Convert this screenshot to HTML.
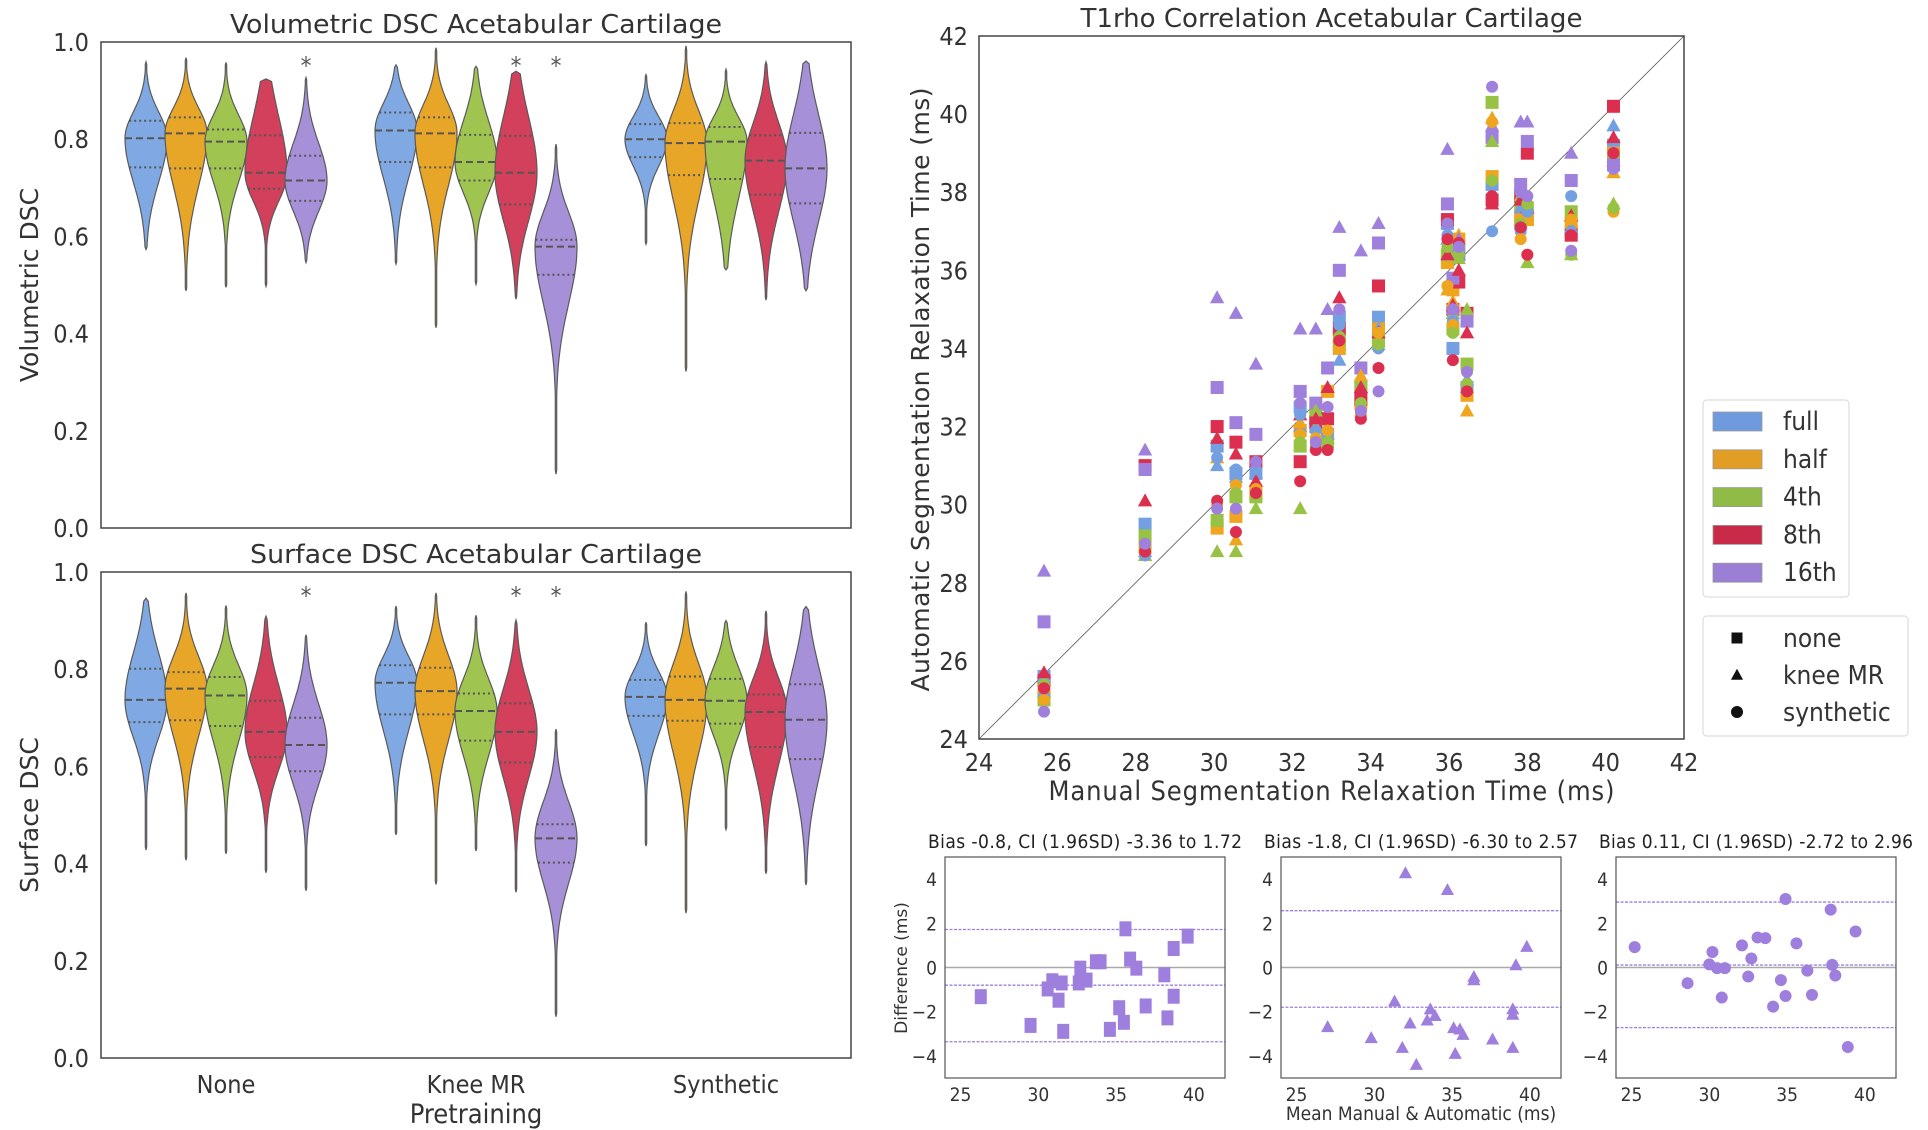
<!DOCTYPE html>
<html><head><meta charset="utf-8"><style>
html,body{margin:0;padding:0;background:#fff;}
svg{display:block;font-family:"DejaVu Sans Condensed","DejaVu Sans","Liberation Sans",sans-serif;}
</style></head><body>
<svg id="fig" width="1928" height="1130" viewBox="0 0 1928 1130"></svg>
<script>
// ---------------- data ----------------
const groups = ["None","Knee MR","Synthetic"];
const fractions = ["full","half","4th","8th","16th"];
const colors = ["#74a0e2","#f0a51e","#98c244","#dc2f4f","#9f80dc"];
const violinColors = ["#80a9e3","#e8a628","#a0c450","#d2405c","#a690d8"];
const volMin = [[0.573,0.488,0.495,0.497,0.546],[0.543,0.412,0.501,0.471,0.111],[0.584,0.322,0.531,0.469,0.488]];
const volQ1  = [[0.742,0.740,0.740,0.698,0.673],[0.753,0.742,0.715,0.666,0.521],[0.763,0.726,0.718,0.686,0.668]];
const volMed = [[0.802,0.812,0.795,0.731,0.715],[0.818,0.812,0.753,0.731,0.579],[0.800,0.792,0.795,0.756,0.740]];
const volQ3  = [[0.838,0.845,0.820,0.808,0.766],[0.855,0.845,0.809,0.807,0.593],[0.831,0.833,0.825,0.808,0.813]];
const volMax = [[0.959,0.968,0.958,0.924,0.927],[0.953,0.988,0.950,0.940,0.790],[0.933,0.992,0.944,0.959,0.961]];
const surfMin = [[0.428,0.407,0.420,0.381,0.344],[0.459,0.357,0.426,0.341,0.085],[0.436,0.298,0.470,0.379,0.356]];
const surfQ1  = [[0.691,0.695,0.683,0.619,0.590],[0.707,0.707,0.653,0.608,0.402],[0.704,0.694,0.688,0.640,0.615]];
const surfMed = [[0.737,0.760,0.746,0.671,0.644],[0.772,0.755,0.714,0.671,0.452],[0.743,0.737,0.735,0.712,0.696]];
const surfQ3  = [[0.801,0.794,0.784,0.735,0.700],[0.808,0.803,0.750,0.730,0.481],[0.778,0.785,0.780,0.748,0.769]];
const surfMax = [[0.946,0.957,0.931,0.909,0.871],[0.930,0.957,0.911,0.901,0.677],[0.897,0.960,0.900,0.920,0.929]];
const sigMarks = [[0,4],[1,3],[1,4]];
const violinTicks = [0,0.2,0.4,0.6,0.8,1.0];

const manualT = [25.66,28.24,30.08,30.56,31.07,32.2,32.6,32.9,33.2,33.75,34.2,35.96,36.1,36.25,36.46,37.1,37.83,38.0,39.12,40.2];
const pretrainNames = ["none","knee MR","synthetic"];
const autoNone = [
 [25.6,29.5,31.5,30.8,30.8,32.5,32.0,31.8,34.8,33.0,34.8,37.2,34.0,36.5,33.0,38.2,37.2,37.4,37.0,39.2],
 [25.2,28.9,29.4,29.7,30.3,31.9,32.4,32.9,34.0,32.6,34.5,36.2,35.5,36.8,32.8,38.4,37.4,37.3,37.2,39.0],
 [25.0,29.2,29.6,30.2,30.2,31.5,32.3,31.6,34.2,33.0,34.2,36.4,34.5,36.5,33.6,40.3,37.7,37.6,37.5,38.8],
 [25.5,31.0,32.0,31.6,31.1,31.1,32.1,32.2,34.5,32.7,35.6,37.3,35.0,35.7,34.9,37.8,37.9,39.0,36.9,40.2],
 [27.0,30.9,33.0,32.1,31.8,32.9,32.6,33.5,36.0,33.5,36.7,37.7,35.8,36.4,34.7,39.4,38.2,39.3,38.3,38.7]];
const autoKnee = [
 [25.6,28.8,31.0,30.7,30.8,32.0,32.2,31.8,33.7,33.0,34.5,36.8,34.9,36.4,33.2,38.0,37.6,37.6,37.1,39.7],
 [25.3,28.7,31.2,29.1,30.3,32.1,32.0,32.9,34.3,33.3,34.2,35.5,35.2,36.9,32.4,39.9,37.3,37.3,37.4,38.5],
 [25.2,28.7,28.8,28.8,29.9,29.9,32.4,31.7,34.1,33.0,34.1,36.5,34.9,36.3,35.0,39.3,37.9,36.2,36.4,37.7],
 [25.7,30.1,31.7,31.3,30.6,32.3,32.2,33.0,35.3,33.0,34.4,36.4,35.1,36.0,34.4,37.7,37.8,37.6,37.4,39.4],
 [28.3,31.4,35.3,34.9,33.6,34.5,34.5,35.0,37.1,36.5,37.2,39.1,35.0,36.8,33.0,39.7,39.8,39.8,39.0,38.8]];
const autoSyn = [
 [25.1,28.7,31.2,30.9,30.9,32.3,31.9,31.8,34.6,32.4,34.0,36.9,34.7,36.5,33.0,37.0,37.0,37.5,37.9,39.0],
 [25.0,28.8,30.0,30.5,30.4,31.8,31.7,31.9,34.0,32.3,34.4,35.6,34.6,36.6,32.8,39.8,36.8,36.4,37.3,37.5],
 [25.4,28.9,29.6,30.3,30.2,31.6,31.5,31.6,34.3,32.6,34.1,36.6,34.4,36.4,33.1,38.3,37.2,37.7,36.4,37.6],
 [25.3,28.8,30.1,29.3,30.3,30.6,31.4,31.4,34.2,32.2,33.5,36.8,33.7,36.7,32.9,37.9,37.1,36.4,36.9,39.0],
 [24.7,29.0,29.9,29.9,31.1,32.6,31.6,32.5,35.0,32.4,32.9,37.2,35.0,36.6,33.4,40.7,38.0,37.9,36.5,38.6]];
const scatterTicks = [24,26,28,30,32,34,36,38,40,42];

const baMean1 = [26.3,29.5,30.6,30.9,31.3,31.5,31.6,32.6,32.7,33.1,33.7,34.0,34.6,35.2,35.5,35.6,35.9,36.3,36.9,38.1,38.3,38.7,38.7,39.6];
const baDiff1 = [-1.32,-2.62,-0.97,-0.6,-1.48,-0.7,-2.89,-0.7,-0.03,-0.57,0.26,0.26,-2.8,-1.82,-2.48,1.75,0.38,-0.03,-1.74,-0.33,-2.28,-1.3,0.86,1.42];
const baMean2 = [27.0,29.8,31.3,31.8,32.0,32.3,32.7,33.4,33.6,33.9,34.7,35.1,35.2,35.5,35.7,36.4,36.4,37.6,38.9,38.9,38.9,39.1,39.8];
const baDiff2 = [-2.69,-3.19,-1.53,-3.63,4.27,-2.53,-4.4,-2.39,-1.89,-2.19,3.51,-2.74,-3.9,-2.8,-3.04,-0.42,-0.57,-3.25,-2.13,-1.89,-3.63,0.11,0.94];
const baMean3 = [25.2,28.6,30.0,30.2,30.5,30.8,31.0,32.1,32.5,32.7,33.1,33.6,34.1,34.6,34.9,34.9,35.6,36.3,36.6,37.8,37.9,38.1,38.9,39.4];
const baDiff3 = [0.92,-0.71,0.14,0.7,-0.03,-1.36,-0.03,1.0,-0.41,0.41,1.36,1.33,-1.77,-0.57,3.1,-1.29,1.09,-0.14,-1.24,2.62,0.12,-0.36,-3.6,1.63];
const baBias = [-0.8,-1.8,0.11];
const baLow = [-3.36,-6.30,-2.72];
const baHigh = [1.72,2.57,2.96];
const baYTicks = [-4,-2,0,2,4];
const baXTicks = [25,30,35,40];

// ---------------- helpers ----------------
const NS="http://www.w3.org/2000/svg";
const svg=document.getElementById('fig');
function el(tag,attrs,parent,text){const e=document.createElementNS(NS,tag);for(const k in attrs)e.setAttribute(k,attrs[k]);if(text!==undefined)e.textContent=text;(parent||svg).appendChild(e);return e;}
function lin(d0,d1,r0,r1){return v=>r0+(v-d0)/(d1-d0)*(r1-r0);}
const TXT="#333";

function violinPanel(name,title,yLabel,top,bottom,mins,q1s,meds,q3s,maxs,titleLen){
  const g=el('g',{},svg);
  
  
  const L=101,R=851;
  const y=lin(0,1,bottom,top);
  const t=el('text',{x:476,y:top-9,'text-anchor':'middle','font-size':26,fill:TXT,textLength:titleLen,lengthAdjust:'spacingAndGlyphs'},g,title);
  
  const yl=el('text',{x:0,y:0,transform:`translate(38,${(top+bottom)/2}) rotate(-90)`,'text-anchor':'middle','font-size':25,fill:TXT,'font-family':'DejaVu Sans, sans-serif'},g,yLabel);
  
  violinTicks.forEach(v=>{const tk=el('text',{x:89,y:y(v)+9,'text-anchor':'end','font-size':25,fill:TXT},g,v.toFixed(1));
    });
  const groupCenters=[226,476,726];
  for(let gi=0;gi<3;gi++){
    for(let fi=0;fi<5;fi++){
      const cx=groupCenters[gi]+(fi-2)*40;
      const mn=mins[gi][fi],q1=q1s[gi][fi],md=meds[gi][fi],q3=q3s[gi][fi],mx=maxs[gi][fi];
      const sUp=Math.max((q3-md)*1.5,(mx-md)/3), sDn=Math.max((md-q1)*1.5,(md-mn)/4);
      const W=21;
      const hw=v=>{const s=v>md?sUp:sDn;return Math.max(0.7,W*Math.exp(-0.5*((v-md)/s)**2));};
      const N=80;let right=[],left=[];
      for(let i=0;i<=N;i++){const v=mn+(mx-mn)*i/N;let w=hw(v);if(i===0||i===N)w=0;right.push([cx+w,y(v)]);left.push([cx-w,y(v)]);}
      const pts=right.concat(left.reverse()).map(p=>p[0].toFixed(1)+','+p[1].toFixed(1)).join(' ');
      const vp=el('polygon',{points:pts,fill:violinColors[fi],stroke:'#5a5a5a','stroke-width':1.2},g);
      
      
      [[q1,'2,3'],[md,'7,4'],[q3,'2,3']].forEach(([v,da])=>{const w=hw(v);
        el('line',{x1:cx-w,x2:cx+w,y1:y(v),y2:y(v),stroke:'#555','stroke-width':2,'stroke-dasharray':da},g);});
    }
  }
  sigMarks.forEach(([gi,fi])=>{const s=el('text',{x:groupCenters[gi]+(fi-2)*40,y:y(0.955)+10,'text-anchor':'middle','font-size':24,fill:'#555'},g,'*');
    });
  el('rect',{x:L,y:top,width:R-L,height:bottom-top,fill:'none',stroke:'#444','stroke-width':1.5},g);
  return groupCenters;
}
violinPanel('volumetric-dsc-panel','Volumetric DSC Acetabular Cartilage','Volumetric DSC',42,528,volMin,volQ1,volMed,volQ3,volMax,492);
const gc=violinPanel('surface-dsc-panel','Surface DSC Acetabular Cartilage','Surface DSC',572,1058,surfMin,surfQ1,surfMed,surfQ3,surfMax,452);
groups.forEach((gname,i)=>{const t=el('text',{x:gc[i],y:1093,'text-anchor':'middle','font-size':25,fill:TXT},svg,gname);
  });
{const t=el('text',{x:476,y:1123,'text-anchor':'middle','font-size':27,fill:TXT},svg,'Pretraining');
 }

function marker(parent,shape,cx,cy,size,color){
  if(shape===0)return el('rect',{x:cx-size/2,y:cy-size/2,width:size,height:size,fill:color},parent);
  if(shape===1){const h=size*0.95;return el('polygon',{points:`${cx},${cy-h*0.6} ${cx-size*0.55},${cy+h*0.45} ${cx+size*0.55},${cy+h*0.45}`,fill:color},parent);}
  return el('circle',{cx:cx,cy:cy,r:size*0.5,fill:color},parent);
}
{
  const g=el('g',{},svg);
  
  
  const L=979,R=1684,T=36,B=739;
  const sx=lin(24,42,L,R), sy=lin(24,42,B,T);
  const t=el('text',{x:(L+R)/2,y:27,'text-anchor':'middle','font-size':26,fill:TXT,textLength:502,lengthAdjust:'spacingAndGlyphs'},g,'T1rho Correlation Acetabular Cartilage');
  
  el('line',{x1:sx(24),y1:sy(24),x2:sx(42),y2:sy(42),stroke:'#555','stroke-width':0.8},g);
  const sets=[autoNone,autoKnee,autoSyn];
  for(let p=0;p<3;p++)for(let f=0;f<5;f++){
    manualT.forEach((m,i)=>{const mk=marker(g,p,sx(m),sy(sets[p][f][i]),p===2?12:13,colors[f]);
      });
  }
  el('rect',{x:L,y:T,width:R-L,height:B-T,fill:'none',stroke:'#444','stroke-width':1.5},g);
  scatterTicks.forEach(v=>{
    const a=el('text',{x:L-11,y:sy(v)+9,'text-anchor':'end','font-size':25,fill:TXT},g,String(v));
    
    const b=el('text',{x:sx(v),y:771,'text-anchor':'middle','font-size':25,fill:TXT},g,String(v));
    
  });
  const xl=el('text',{x:(L+R)/2,y:800,'text-anchor':'middle','font-size':27,fill:TXT,textLength:566},g,'Manual Segmentation Relaxation Time (ms)');
  
  const yl=el('text',{x:0,y:0,transform:`translate(929,${(T+B)/2+2}) rotate(-90)`,'text-anchor':'middle','font-size':25,fill:TXT,'font-family':'DejaVu Sans, sans-serif',textLength:604},g,'Automatic Segmentation Relaxation Time (ms)');
  
  const lg=el('g',{},g);
  
  el('rect',{x:1703,y:400,width:146,height:197,rx:4,fill:'#fff',stroke:'#ddd','stroke-width':1.2},lg);
  const legCols=["#6f9ade","#e29e24","#90bb46","#c82a48","#9a7fd4"];
  fractions.forEach((f,i)=>{const yy=421+i*37.8;
    const r=el('rect',{x:1713,y:yy-9,width:49,height:19,fill:legCols[i],stroke:'#999','stroke-width':0.8},lg);
    
    const tx=el('text',{x:1783,y:yy+9,'font-size':26,fill:TXT},lg,f);
    });
  const lg2=el('g',{},g);
  
  el('rect',{x:1703,y:616,width:205,height:120,rx:4,fill:'#fff',stroke:'#ddd','stroke-width':1.2},lg2);
  pretrainNames.forEach((n,i)=>{const yy=638+i*37;
    marker(lg2,i,1737,yy,i===2?12:11,'#111');
    const tx=el('text',{x:1783,y:yy+9,'font-size':26,fill:TXT},lg2,n);
    });
}

{
  const lefts=[945,1281,1616], W=280, T=857, B=1078;
  const means=[baMean1,baMean2,baMean3], diffs=[baDiff1,baDiff2,baDiff3];
  for(let k=0;k<3;k++){
    const g=el('g',{},svg);
    
    
    const L=lefts[k],R=L+W;
    const sx=lin(24,42,L,R), sy=lin(-5,5,B,T);
    const title=`Bias ${k===2?baBias[k].toFixed(2):baBias[k].toFixed(1)}, CI (1.96SD) ${baLow[k].toFixed(2)} to ${baHigh[k].toFixed(2)}`;
    const t=el('text',{x:(L+R)/2,y:T-9,'text-anchor':'middle','font-size':19,fill:'#222',textLength:314},g,title);
    
    el('line',{x1:L,x2:R,y1:sy(0),y2:sy(0),stroke:'#aaa','stroke-width':1.6},g);
    [baBias[k],baLow[k],baHigh[k]].forEach(v=>{if(v>-5&&v<5)el('line',{x1:L,x2:R,y1:sy(v),y2:sy(v),stroke:'#9b80e0','stroke-width':1.3,'stroke-dasharray':'3,1.5'},g);});
    means[k].forEach((m,i)=>{const mk=marker(g,k,sx(m),sy(diffs[k][i]),12,'#9e7fdd');
      if(k===0){mk.setAttribute('height',15);mk.setAttribute('y',sy(diffs[k][i])-7.5);}
      });
    el('rect',{x:L,y:T,width:W,height:B-T,fill:'none',stroke:'#555','stroke-width':1.2},g);
    baYTicks.forEach(v=>{const a=el('text',{x:L-8,y:sy(v)+7,'text-anchor':'end','font-size':19,fill:TXT},g,v<0?'\u2212'+(-v):String(v));
      });
    baXTicks.forEach(v=>{const a=el('text',{x:sx(v),y:1101,'text-anchor':'middle','font-size':19,fill:TXT},g,String(v));
      });
  }
  const yl=el('text',{x:0,y:0,transform:`translate(907,968) rotate(-90)`,'text-anchor':'middle','font-size':17,fill:TXT,'font-family':'DejaVu Sans, sans-serif'},svg,'Difference (ms)');
  
  const xl=el('text',{x:1421,y:1120,'text-anchor':'middle','font-size':19,fill:TXT},svg,'Mean Manual & Automatic (ms)');
  
}
</script>
</body></html>
